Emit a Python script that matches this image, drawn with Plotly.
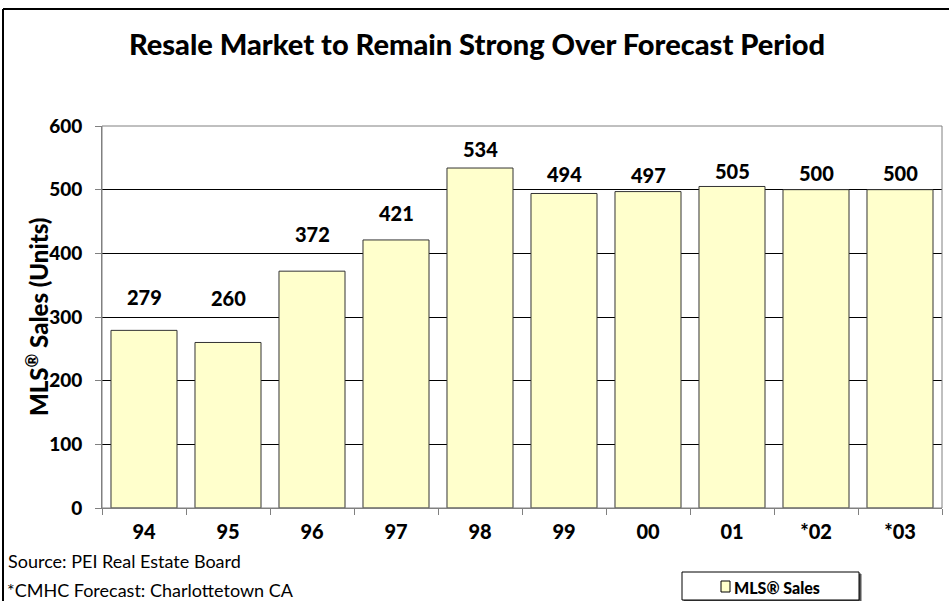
import plotly.graph_objects as go

categories = ["94", "95", "96", "97", "98", "99", "00", "01", "*02", "*03"]
sales = [279, 260, 372, 421, 534, 494, 497, 505, 500, 500]
label_shift = [33, 44, 37, 27, 19, 19, 17, 15, 17, 17]
y_ticks = [0, 100, 200, 300, 400, 500, 600]
series_name = "MLS® Sales"

W, H = 949, 601
L, R, T, B = 102, 7, 126, 93
PW, PH = W - L - R, H - T - B

def px(x):
    return (x - L) / PW

def py(y):
    return (H - B - y) / PH

FONT = "Lato"
HEAVY = 900

fig = go.Figure()
fig.add_trace(go.Bar(
    x=categories, y=sales, name=series_name,
    marker=dict(color="#FFFFCC", line=dict(color="#333333", width=1)),
    showlegend=False, hoverinfo="x+y",
))

for i, (v, s) in enumerate(zip(sales, label_shift)):
    fig.add_annotation(x=i, y=v, text=str(v), showarrow=False,
                       yanchor="middle", yshift=s,
                       font=dict(family=FONT, size=20, color="black", weight=HEAVY))

fig.update_layout(
    width=W, height=H,
    margin=dict(l=L, r=R, t=T, b=B, pad=0),
    paper_bgcolor="white", plot_bgcolor="white",
    bargap=0.214,
    font=dict(family=FONT, color="black"),
    title=dict(text="Resale Market to Remain Strong Over Forecast Period",
               x=477 / W, xanchor="center", xref="container", y=1 - 45 / H, yanchor="middle",
               yref="container",
               font=dict(family=FONT, size=29, color="black", weight=HEAVY)),
    xaxis=dict(type="category", range=[-0.5, len(categories) - 0.5],
               showgrid=False, showline=True, linecolor="#808080",
               linewidth=1, ticks="outside", tickson="boundaries", ticklen=6,
               tickcolor="#808080",
               tickfont=dict(family=FONT, size=20, color="black", weight=HEAVY),
               ticklabelstandoff=6, tickangle=0,
               tickvals=categories, ticktext=categories),
    yaxis=dict(range=[0, 600], tickvals=y_ticks,
               ticktext=[str(t) for t in y_ticks],
               showgrid=True, gridcolor="black", gridwidth=1, zeroline=False,
               showline=True, linecolor="#808080", linewidth=1,
               ticks="outside", ticklen=6, tickcolor="#808080",
               tickfont=dict(family=FONT, size=19, color="black", weight=HEAVY),
               ticklabelstandoff=9),
)

# y-axis title
fig.add_annotation(xref="paper", yref="paper", x=px(37), y=0.5,
                   text="MLS<sup>®</sup> Sales (Units)", textangle=-90,
                   showarrow=False, xanchor="center", yanchor="middle",
                   font=dict(family=FONT, size=24, color="black", weight=HEAVY))

# plot area border (top/right gray)
fig.add_shape(type="rect", xref="paper", yref="paper", x0=0, x1=1, y0=0, y1=1,
              line=dict(color="#808080", width=1), fillcolor="rgba(0,0,0,0)", layer="above")

# outer chart frame (left and top)
fig.add_shape(type="line", xref="paper", yref="paper", x0=px(3), x1=px(3), y0=py(9), y1=py(H + 5),
              line=dict(color="black", width=2))
fig.add_shape(type="line", xref="paper", yref="paper", x0=px(3), x1=px(W + 5), y0=py(9), y1=py(9),
              line=dict(color="black", width=2))

# source notes
fig.add_annotation(xref="paper", yref="paper", x=px(6), y=py(561), text="Source: PEI Real Estate Board",
                   showarrow=False, xanchor="left", yanchor="middle",
                   font=dict(family=FONT, size=18, color="black"))
fig.add_annotation(xref="paper", yref="paper", x=px(5), y=py(590), text="*CMHC Forecast: Charlottetown CA",
                   showarrow=False, xanchor="left", yanchor="middle",
                   font=dict(family=FONT, size=18, color="black"))

# legend box
fig.add_shape(type="rect", xref="paper", yref="paper", x0=px(684), x1=px(861), y0=py(574), y1=py(602),
              line=dict(color="#555555", width=1), fillcolor="#555555", layer="above")
fig.add_shape(type="rect", xref="paper", yref="paper", x0=px(682), x1=px(859), y0=py(572), y1=py(600),
              line=dict(color="black", width=1), fillcolor="white", layer="above")
fig.add_shape(type="rect", xref="paper", yref="paper", x0=px(721), x1=px(730), y0=py(581), y1=py(592),
              line=dict(color="black", width=1), fillcolor="#FFFFCC", layer="above")
fig.add_annotation(xref="paper", yref="paper", x=px(732), y=py(587), text=series_name,
                   showarrow=False, xanchor="left", yanchor="middle",
                   font=dict(family=FONT, size=16, color="black", weight=HEAVY))

fig.write_html("out.html")
